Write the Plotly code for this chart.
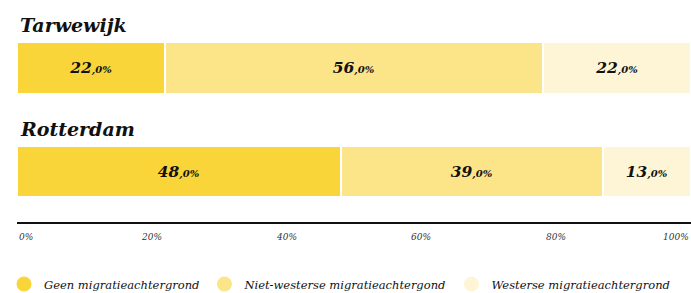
import plotly.graph_objects as go

regions = ["Tarwewijk", "Rotterdam"]
series_names = ["Geen migratieachtergrond", "Niet-westerse migratieachtergond", "Westerse migratieachtergrond"]
geen = [22, 48]
niet_westers = [56, 39]
westers = [22, 13]
series_values = [geen, niet_westers, westers]
colors = ["#FAD53A", "#FCE488", "#FEF5D7"]
tick_vals = [0, 20, 40, 60, 80, 100]
tick_labels = ["0%", "20%", "40%", "60%", "80%", "100%"]

serif = "DejaVu Serif"
ypos = {"Tarwewijk": 1, "Rotterdam": 0}

fig = go.Figure()
for name, vals, col in zip(series_names, series_values, colors):
    fig.add_trace(go.Bar(
        x=vals, y=[ypos[r] for r in regions], orientation="h", name=name,
        marker=dict(color=col, line=dict(color="white", width=2.5)),
        width=0.5,
        text=[f"<b>{v}</b><span style='font-size:10px'>,0%</span>" for v in vals],
        textposition="inside", insidetextanchor="middle", textangle=0,
        constraintext="none",
        textfont=dict(family=serif, size=15.5, color="#111111", style="italic", weight="bold"),
        showlegend=False, hoverinfo="skip",
    ))
for name, col in zip(series_names, colors):
    fig.add_trace(go.Scatter(
        x=[None], y=[None], mode="markers", name=name,
        marker=dict(color=col, size=15, symbol="circle"),
    ))

annotations = []
for r in regions:
    annotations.append(dict(
        x=0, xref="paper", y=ypos[r], yref="y", yanchor="middle", xanchor="left",
        yshift=43, xshift=1, showarrow=False, text=r,
        font=dict(family=serif, size=19, color="#111111", style="italic", weight="bold"),
    ))
for i, (tv, tl) in enumerate(zip(tick_vals, tick_labels)):
    anchor = "left" if i == 0 else ("right" if i == len(tick_vals) - 1 else "center")
    annotations.append(dict(
        x=tv, xref="x", y=0, yref="paper", yanchor="top", xanchor=anchor,
        yshift=-8, showarrow=False, text=tl,
        font=dict(family=serif, size=9, color="#333333", style="italic"),
    ))

fig.update_layout(
    width=691, height=293,
    margin=dict(l=17, r=0, t=20, b=71),
    barmode="stack", bargap=0,
    plot_bgcolor="white", paper_bgcolor="white",
    xaxis=dict(range=[0, 100], showgrid=False, zeroline=False, showticklabels=False,
               showline=True, linecolor="#111111", linewidth=1.5, ticks=""),
    yaxis=dict(range=[-0.488, 1.464], showgrid=False, zeroline=False,
               showticklabels=False, showline=False, fixedrange=True),
    legend=dict(orientation="h", xref="container", x=4 / 691, xanchor="left",
                yref="container", y=9 / 293, yanchor="middle",
                font=dict(family=serif, size=11.5, color="#111111", style="italic"),
                itemclick=False, traceorder="normal", tracegroupgap=0),
    annotations=annotations,
    uniformtext=dict(mode=False),
)

fig.write_html("out.html", config={"displayModeBar": False},
               post_script="document.body.style.margin='0';document.body.style.overflow='hidden';")
